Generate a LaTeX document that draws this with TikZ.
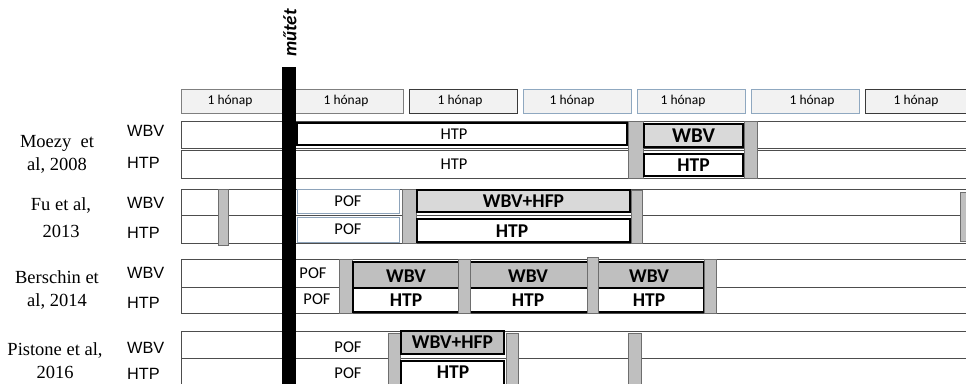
\documentclass[tikz,border=0pt]{standalone}
\usepackage{fontspec}
\setmainfont{Liberation Serif}
\newfontfamily\calfont{Carlito}
\newfontfamily\arfont{Liberation Sans}
\usetikzlibrary{fit}

\definecolor{rowline}{HTML}{4D4D4D}
\definecolor{monthfill}{HTML}{F2F2F2}
\definecolor{mgray}{HTML}{7F7F7F}
\definecolor{mdark}{HTML}{3A3A3A}
\definecolor{mblue}{HTML}{8FA8C0}
\definecolor{barfill}{HTML}{BFBFBF}
\definecolor{barline}{HTML}{6E6E6E}
\definecolor{lightphase}{HTML}{D9D9D9}
\definecolor{darkphase}{HTML}{BFBFBF}
\definecolor{pofline}{HTML}{8DA3BA}

% box spanned between two corner points, with its text centred in it
\newcommand\spanbox[8]{%
  \node[#6,inner sep=0pt,fit={(#1,#2) (#3,#4)}] (#5) {};
  \node[#7,inner sep=0pt] (#5-t) at (#5.center) {#8};}

\begin{document}
\begin{tikzpicture}[x=1pt,y=-1pt,
  row/.style={draw=rowline,fill=white,line width=0.9pt},
  month/.style={draw=#1,fill=monthfill,line width=0.8pt},
  washout/.style={draw=barline,fill=barfill,line width=0.8pt},
  phase/.style={draw=black,line width=2.6pt},
  pofbox/.style={draw=pofline,fill=white,line width=0.9pt},
  none/.style={},
  mtxt/.style={font=\calfont\fontsize{13.5}{15}\selectfont,inner sep=0pt},
  txt/.style={font=\calfont\fontsize{16.5}{18}\selectfont,inner sep=0pt},
  btxt/.style={font=\calfont\bfseries\fontsize{19.5}{21}\selectfont,inner sep=0pt},
  grp/.style={font=\arfont\fontsize{16.3}{18}\selectfont,anchor=west,inner sep=0pt},
  author/.style={font=\fontsize{18.5}{23}\selectfont,align=center,inner sep=0pt}]
\useasboundingbox (0,0) rectangle (966,383);

% ---- month scale ----
\foreach \i/\c/\tx in {0/mgray/230,1/mgray/346,2/mdark/460,3/mblue/572,4/mblue/683,5/mblue/812,6/mdark/916}{
  \node[month=\c,inner sep=0pt,fit={({181+114*\i},89) ({289+114*\i},113)}] (m\i) {};
  \node[mtxt] (m\i-t) at (\tx,101) {1 hónap};
}

% ---- study rows ----
\spanbox{181}{121}{985}{148}{mzW}{row}{none}{}
\spanbox{181}{150}{985}{178}{mzH}{row}{none}{}
\spanbox{181}{189}{985}{215}{fuW}{row}{none}{}
\spanbox{181}{215}{985}{243}{fuH}{row}{none}{}
\spanbox{181}{259}{985}{287}{beW}{row}{none}{}
\spanbox{181}{287}{985}{313}{beH}{row}{none}{}
\spanbox{181}{331}{985}{358}{piW}{row}{none}{}
\spanbox{181}{358}{985}{395}{piH}{row}{none}{}

% ---- Moezy et al, 2008 ----
\spanbox{297}{123}{627}{145}{mzHtpA}{phase,line width=2pt,fill=white}{none}{}
\node[txt] (mzHtpAt) at (454,134) {HTP};
\node[txt] (mzHtpBt) at (454,164) {HTP};
\spanbox{628}{121}{643}{178}{mzBar1}{washout}{none}{}
\spanbox{644}{124}{743}{147}{mzWbv}{phase,fill=lightphase}{btxt,font=\calfont\bfseries\fontsize{21}{23}\selectfont}{WBV}
\spanbox{644}{154}{743}{176}{mzHtp}{phase,fill=white}{btxt}{HTP}
\spanbox{744}{121}{757}{178}{mzBar2}{washout}{none}{}

% ---- Fu et al, 2013 ----
\spanbox{218}{189}{228}{245}{fuBar0}{washout}{none}{}
\spanbox{297}{189}{399}{213}{fuPofW}{pofbox}{txt}{POF}
\spanbox{297}{217}{399}{242}{fuPofH}{pofbox}{txt}{POF}
\spanbox{402}{189}{416}{243}{fuBar1}{washout}{none}{}
\spanbox{417}{190}{630}{212}{fuWbv}{phase,fill=lightphase}{btxt}{WBV+HFP}
\spanbox{417}{219}{630}{242}{fuHtp}{phase,fill=white}{none}{}
\node[btxt] (fuHtpt) at (512,231) {HTP};
\spanbox{631}{190}{642}{243}{fuBar2}{washout}{none}{}
\spanbox{960}{192}{972}{241}{fuBar3}{washout}{none}{}

% ---- Berschin et al, 2014 ----
\node[txt] (bePofW) at (313,273) {POF};
\node[txt] (bePofH) at (317,299) {POF};
\spanbox{339}{259}{352}{313}{beBar0}{washout}{none}{}
\spanbox{353}{262}{704}{288}{beWbv}{phase,fill=darkphase}{none}{}
\spanbox{353}{288}{704}{312}{beHtp}{phase,fill=white}{none}{}
\spanbox{458}{259}{470}{313}{beBar1}{washout}{none}{}
\spanbox{587}{257}{598}{313}{beBar2}{washout}{none}{}
\spanbox{704}{259}{716}{313}{beBar3}{washout}{none}{}
\foreach \x/\n in {406/1,528/2,649/3}{
  \node[btxt] (beW\n) at (\x,276) {WBV};
  \node[btxt] (beH\n) at (\x,300) {HTP};
}

% ---- Pistone et al, 2016 ----
\node[txt] (piPofW) at (348,347) {POF};
\node[txt] (piPofH) at (348,373) {POF};
\spanbox{388}{333}{400}{392}{piBar0}{washout}{none}{}
\spanbox{401}{331}{504}{354}{piWbv}{phase,fill=darkphase}{btxt}{WBV+HFP}
\spanbox{401}{361}{504}{392}{piHtp}{phase,fill=white}{none}{}
\node[btxt] (piHtpt) at (453,372) {HTP};
\spanbox{506}{333}{518}{392}{piBar1}{washout}{none}{}
\spanbox{628}{333}{641}{392}{piBar2}{washout}{none}{}

% ---- surgery marker ----
\spanbox{282}{67}{296}{395}{op}{fill=black}{none}{}
\node[rotate=90,font=\calfont\bfseries\itshape\fontsize{19}{21}\selectfont,inner sep=0pt] (optxt) at (290,33) {műtét};

% ---- group labels ----
\foreach \n/\w/\h in {mz/131/163,fu/203/233,be/273/303,pi/348/374}{
  \node[grp] (\n Lw) at (127,\w) {WBV};
  \node[grp] (\n Lh) at (127,\h) {HTP};
}

% ---- study labels ----
\node[author] (aMoezy) at (57,154) {Moezy\ \ et\\al, 2008};
\node[author] (aFu) at (61,218) {Fu et al,\\[4pt]2013};
\node[author] (aBerschin) at (57,290) {Berschin et\\al, 2014};
\node[author] (aPistone) at (55,361) {Pistone et al,\\2016};
\end{tikzpicture}
\end{document}
